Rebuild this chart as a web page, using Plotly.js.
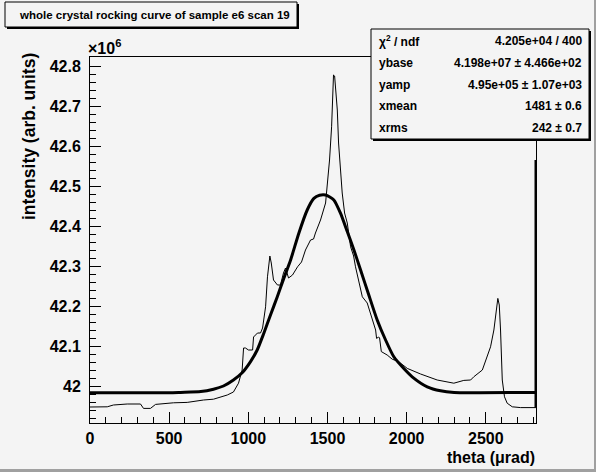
<!DOCTYPE html>
<html>
<head>
<meta charset="utf-8">
<script src="https://cdn.plot.ly/plotly-3.0.1.min.js"></script>
<style>
html,body{margin:0;padding:0;background:#f4f4f4;}
#chart{width:596px;height:472px;}
</style>
</head>
<body>
<div id="chart"></div>
<script>
// Histogram (measured rocking curve), theta in µrad, intensity in units of 1e6
const histTheta = [0,109,148,235,319,338,382,414,527,614,717,780,867,906,938,951,961,970,982,1001,1027,1033,1058,1077,1090,1109,1121,1136,1145,1159,1184,1203,1222,1235,1254,1279,1311,1336,1349,1361,1393,1412,1424,1456,1488,1498,1513,1526,1534,1538,1545,1551,1562,1570,1582,1593,1608,1625,1646,1665,1677,1696,1720,1751,1783,1804,1810,1823,1829,1840,1877,1909,1949,2004,2088,2193,2298,2361,2404,2424,2478,2509,2530,2551,2562,2576,2585,2593,2604,2618,2635,2667,2720,2817];
const histIntensity = [41.9475,41.948,41.9525,41.955,41.955,41.944,41.944,41.954,41.958,41.959,41.965,41.967,41.9775,41.985,42.007,42.0225,42.04,42.095,42.095,42.09,42.09,42.1225,42.1325,42.1325,42.145,42.198,42.273,42.325,42.3075,42.265,42.2525,42.2525,42.2825,42.295,42.27,42.2775,42.298,42.31,42.3275,42.34,42.365,42.3675,42.3825,42.415,42.4575,42.498,42.565,42.648,42.7325,42.7775,42.775,42.74,42.69,42.6075,42.548,42.4825,42.4325,42.4075,42.348,42.325,42.298,42.265,42.223,42.2075,42.165,42.14,42.119,42.1225,42.12,42.086,42.0775,42.067,42.061,42.044,42.03,42.015,42.007,42.014,42.015,42.023,42.04,42.073,42.098,42.14,42.1825,42.219,42.2025,42.14,42.015,41.973,41.957,41.948,41.946,41.946];

// Fit curve
const fitTheta = [0,500,572,700,780,843,906,961,1014,1056,1098,1140,1183,1224,1267,1319,1372,1414,1450,1488,1540,1582,1625,1667,1709,1761,1814,1867,1919,1972,2035,2130,2214,2300,2817];
const fitIntensity = [41.983,41.983,41.984,41.986,41.992,42.000,42.015,42.033,42.061,42.09,42.132,42.1775,42.223,42.269,42.315,42.382,42.44,42.469,42.477,42.4775,42.465,42.432,42.386,42.34,42.29,42.2275,42.165,42.115,42.073,42.048,42.023,41.998,41.988,41.984,41.984];

// Thick edge segment at the right end of the range
const edgeTheta = [2817, 2817];
const edgeIntensity = [41.946, 42.565];

// Tick labels
const xTickVals = [0,500,1000,1500,2000,2500];
const xTickText = ["0","500","1000","1500","2000","2500"];
const yTickVals = [42,42.1,42.2,42.3,42.4,42.5,42.6,42.7,42.8];
const yTickText = ["42","42.1","42.2","42.3","42.4","42.5","42.6","42.7","42.8"];

// Stats box
const statLabels = ["χ<sup>2</sup> / ndf","ybase","yamp","xmean","xrms"];
const statValues = ["4.205e+04 / 400","4.198e+07 ± 4.466e+02","4.95e+05 ± 1.07e+03","1481 ± 0.6","242 ± 0.7"];

const titleText = "whole crystal rocking curve of sample e6 scan 19";
const xTitle = "theta (μrad)";
const yTitle = "intensity (arb. units)";

// geometry helpers (pixels -> paper)
const W = 596, H = 472;
const mL = 90, mR = 60, mT = 57, mB = 49;
const pw = W - mL - mR, ph = H - mT - mB;
const px = v => (v - mL) / pw;
const py = v => (H - mB - v) / ph;

const FONT = "Liberation Sans, Arial, Helvetica, sans-serif";
const BG = "#f4f4f4";

const traces = [
  {x: histTheta, y: histIntensity, type: "scatter", mode: "lines",
   line: {color: "black", width: 1, shape: "linear"}, hoverinfo: "skip", cliponaxis: false},
  {x: fitTheta, y: fitIntensity, type: "scatter", mode: "lines",
   line: {color: "black", width: 3, shape: "spline", smoothing: 0.6}, hoverinfo: "skip"},
  {x: edgeTheta, y: edgeIntensity, type: "scatter", mode: "lines",
   line: {color: "black", width: 3}, hoverinfo: "skip", cliponaxis: false}
];

const shapes = [];
function box(x0, y0, x1, y1, shadow) {
  shapes.push({type: "rect", xref: "paper", yref: "paper",
    x0: px(x0 + shadow), x1: px(x1 + shadow), y0: py(y1 + shadow), y1: py(y0 + shadow),
    fillcolor: "black", line: {width: 0}, layer: "above"});
  shapes.push({type: "rect", xref: "paper", yref: "paper",
    x0: px(x0), x1: px(x1), y0: py(y1), y1: py(y0),
    fillcolor: BG, line: {color: "black", width: 1}, layer: "above"});
}
box(5, 2, 297, 27, 2);
box(371, 29, 589, 139, 2);
// canvas bevel (right & bottom)
shapes.push({type: "rect", xref: "paper", yref: "paper",
  x0: px(594), x1: px(596), y0: py(472), y1: py(0), fillcolor: "#a0a0a0", line: {width: 0}});
shapes.push({type: "rect", xref: "paper", yref: "paper",
  x0: px(0), x1: px(596), y0: py(472), y1: py(469), fillcolor: "#a0a0a0", line: {width: 0}});

const annotations = [];
annotations.push({xref: "paper", yref: "paper", x: px(154), y: py(15), text: titleText,
  showarrow: false, xanchor: "center", yanchor: "middle",
  font: {family: FONT, size: 11.5, color: "black", weight: "bold"}});
const rowY = [41, 63, 85, 106, 128];
for (let i = 0; i < statLabels.length; i++) {
  annotations.push({xref: "paper", yref: "paper", x: px(377), y: py(rowY[i]), text: statLabels[i],
    showarrow: false, xanchor: "left", yanchor: "middle",
    font: {family: FONT, size: 12, color: "black", weight: "bold"}});
  annotations.push({xref: "paper", yref: "paper", x: px(584), y: py(rowY[i]), text: statValues[i],
    showarrow: false, xanchor: "right", yanchor: "middle",
    font: {family: FONT, size: 12, color: "black", weight: "bold"}});
}
annotations.push({xref: "paper", yref: "paper", x: px(86), y: py(47), text: "×10<sup>6</sup>",
  showarrow: false, xanchor: "left", yanchor: "middle",
  font: {family: FONT, size: 16, color: "black", weight: "bold"}});
annotations.push({xref: "paper", yref: "paper", x: px(537), y: py(457), text: xTitle,
  showarrow: false, xanchor: "right", yanchor: "middle",
  font: {family: FONT, size: 16, color: "black", weight: "bold"}});
annotations.push({xref: "paper", yref: "paper", x: px(29), y: py(137), text: yTitle,
  showarrow: false, xanchor: "center", yanchor: "middle", textangle: -90,
  font: {family: FONT, size: 17.5, color: "black", weight: "bold"}});

const layout = {
  width: W, height: H,
  margin: {l: mL, r: mR, t: mT, b: mB, pad: 0},
  paper_bgcolor: BG, plot_bgcolor: BG,
  showlegend: false,
  xaxis: {
    range: [0, 2817], showgrid: false, zeroline: false,
    showline: true, mirror: true, linecolor: "black", linewidth: 1,
    tickmode: "array", tickvals: xTickVals, ticktext: xTickText,
    ticks: "inside", ticklen: 11, tickcolor: "black", tickwidth: 1,
    minor: {tickmode: "linear", tick0: 0, dtick: 100, ticks: "inside", ticklen: 6, tickcolor: "black", showgrid: false},
    tickfont: {family: FONT, size: 16, color: "black", weight: "bold"},
    ticklabelstandoff: 1
  },
  yaxis: {
    range: [41.9075, 42.8225], showgrid: false, zeroline: false,
    showline: true, mirror: true, linecolor: "black", linewidth: 1,
    tickmode: "array", tickvals: yTickVals, ticktext: yTickText,
    ticks: "inside", ticklen: 11, tickcolor: "black", tickwidth: 1,
    minor: {tickmode: "linear", tick0: 42, dtick: 0.02, ticks: "inside", ticklen: 6, tickcolor: "black", showgrid: false},
    tickfont: {family: FONT, size: 16, color: "black", weight: "bold"},
    ticklabelstandoff: 5
  },
  shapes: shapes,
  annotations: annotations
};

Plotly.newPlot("chart", traces, layout, {staticPlot: true, displayModeBar: false});
</script>
</body>
</html>
